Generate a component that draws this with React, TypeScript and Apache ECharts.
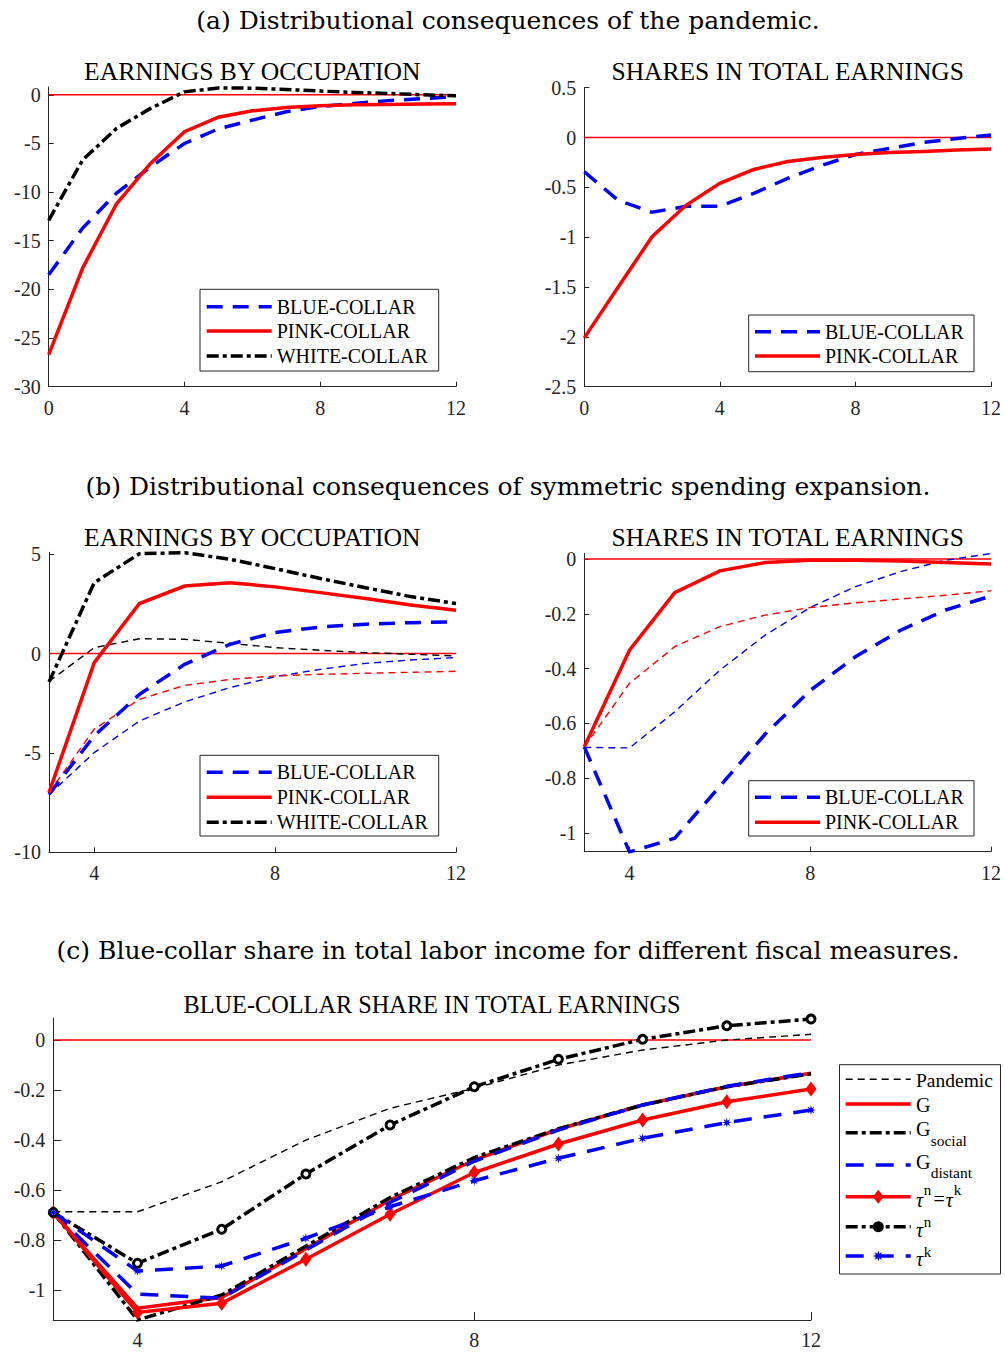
import React, { useEffect, useRef } from "react";
import * as echarts from "echarts";

// ---------- DATA ----------
const xPandemic = [0, 1, 2, 3, 4, 5, 6, 7, 8, 9, 10, 11, 12];
const xPolicy = [3, 4, 5, 6, 7, 8, 9, 10, 11, 12];

// (a) pandemic: earnings by occupation
const aEarnBlue = [-18.5, -13.7, -10.1, -7.4, -5.0, -3.5, -2.6, -1.75, -1.2, -0.9, -0.6, -0.4, -0.2];
const aEarnPink = [-26.7, -17.8, -11.2, -7.05, -3.8, -2.3, -1.65, -1.3, -1.13, -1.03, -1.0, -0.95, -0.92];
const aEarnWhite = [-12.9, -6.7, -3.45, -1.4, 0.3, 0.7, 0.68, 0.55, 0.38, 0.24, 0.14, 0.0, -0.1];
// (a) pandemic: shares in total earnings
const aShareBlue = [-0.343, -0.63, -0.75, -0.69, -0.69, -0.56, -0.41, -0.28, -0.17, -0.11, -0.05, -0.01, 0.025];
const aSharePink = [-2.01, -1.5, -0.995, -0.68, -0.46, -0.32, -0.24, -0.2, -0.17, -0.15, -0.14, -0.125, -0.115];

// (b) symmetric spending expansion (thick) and pandemic (thin)
const bEarnBlue = [-7.08, -4.14, -2.05, -0.54, 0.47, 1.06, 1.34, 1.48, 1.56, 1.6];
const bEarnPink = [-7.0, -0.45, 2.52, 3.4, 3.57, 3.36, 3.07, 2.77, 2.45, 2.18];
const bEarnWhite = [-1.43, 3.57, 5.03, 5.08, 4.75, 4.28, 3.78, 3.32, 2.87, 2.52];
const bEarnBluePandemic = [-7.1, -4.98, -3.39, -2.43, -1.71, -1.16, -0.79, -0.49, -0.32, -0.2];
const bEarnPinkPandemic = [-7.0, -3.8, -2.3, -1.6, -1.3, -1.12, -1.04, -0.99, -0.94, -0.89];
const bEarnWhitePandemic = [-1.4, 0.3, 0.75, 0.72, 0.52, 0.3, 0.17, 0.05, -0.03, -0.12];
// (b) shares in total earnings
const bShareBlue = [-0.686, -1.07, -1.02, -0.83, -0.64, -0.48, -0.357, -0.26, -0.186, -0.135];
const bSharePink = [-0.686, -0.333, -0.123, -0.043, -0.013, -0.004, -0.004, -0.007, -0.013, -0.018];
const bShareBluePandemic = [-0.688, -0.69, -0.558, -0.406, -0.278, -0.177, -0.101, -0.046, -0.004, 0.02];
const bSharePinkPandemic = [-0.686, -0.454, -0.32, -0.247, -0.205, -0.177, -0.16, -0.146, -0.132, -0.116];

// (c) blue-collar share for different fiscal measures
const cPandemic = [-0.687, -0.687, -0.567, -0.4, -0.273, -0.193, -0.1, -0.04, 0.0, 0.023];
const cG = [-0.69, -1.073, -1.03, -0.835, -0.64, -0.48, -0.357, -0.26, -0.187, -0.133];
const cGSocial = [-0.69, -1.12, -1.02, -0.825, -0.63, -0.47, -0.355, -0.26, -0.187, -0.135];
const cGDistant = [-0.69, -1.016, -1.033, -0.84, -0.65, -0.485, -0.36, -0.26, -0.185, -0.13];
const cTauBoth = [-0.69, -1.09, -1.053, -0.877, -0.697, -0.53, -0.416, -0.32, -0.247, -0.196];
const cTauN = [-0.69, -0.893, -0.757, -0.536, -0.34, -0.187, -0.077, 0.003, 0.057, 0.084];
const cTauK = [-0.69, -0.924, -0.904, -0.793, -0.667, -0.563, -0.473, -0.393, -0.33, -0.28];

// tick values
const xTicksA = [0, 4, 8, 12];
const xTicksB = [4, 8, 12];
const yTicksA1 = [-30, -25, -20, -15, -10, -5, 0];
const yTicksA2 = [-2.5, -2, -1.5, -1, -0.5, 0, 0.5];
const yTicksB1 = [-10, -5, 0, 5];
const yTicksB2 = [-1, -0.8, -0.6, -0.4, -0.2, 0];
const yTicksC = [-1, -0.8, -0.6, -0.4, -0.2, 0];

// ---------- STYLE ----------
const FONT = "'Liberation Serif', 'Times New Roman', serif";
const HEAD_FONT = "'DejaVu Serif', serif";
const AX = "#262626";
const BLUE = "#0000ff";
const RED = "#ff0000";
const BLACK = "#000000";
const THICK = 3.5;
const THIN = 1.4;
const DASH = [16, 10];
const DASHC = [18, 12];
const DASHDOT = [12, 4, 4, 4];
const THINDASH = [7, 5];

function starPoints(cx: number, cy: number, r1: number, r2: number): number[][] {
  const pts: number[][] = [];
  const n = 8;
  for (let i = 0; i < 2 * n; i++) {
    const r = i % 2 === 0 ? r1 : r2;
    const a = (Math.PI * i) / n - Math.PI / 2;
    pts.push([cx + r * Math.cos(a), cy + r * Math.sin(a)]);
  }
  return pts;
}
const STAR_SYMBOL =
  "path://M" + starPoints(10, 10, 10, 4).map((p) => p[0].toFixed(2) + " " + p[1].toFixed(2)).join(" L") + " Z";

function xAxisCfg(gridIndex: number, min: number, max: number, ticks: number[], margin: number, tickLen: number) {
  return {
    type: "value",
    gridIndex,
    min,
    max,
    axisLine: { show: true, onZero: false, lineStyle: { color: AX, width: 1 } },
    axisTick: { show: true, inside: true, length: tickLen, customValues: ticks, lineStyle: { color: AX, width: 1 } },
    axisLabel: { customValues: ticks, fontFamily: FONT, fontSize: 20, color: AX, margin, formatter: (v: number) => String(v) },
    splitLine: { show: false },
  };
}
function yAxisCfg(gridIndex: number, min: number, max: number, ticks: number[], tickLen: number) {
  return {
    type: "value",
    gridIndex,
    min,
    max,
    axisLine: { show: true, onZero: false, lineStyle: { color: AX, width: 1 } },
    axisTick: { show: true, inside: true, length: tickLen, customValues: ticks, lineStyle: { color: AX, width: 1 } },
    axisLabel: { customValues: ticks, fontFamily: FONT, fontSize: 20, color: AX, margin: 8, formatter: (v: number) => String(v) },
    splitLine: { show: false },
  };
}

// horizontal reference line at zero, spanning the axis extent
function zeroSeries(ax: number, xmin: number, xmax: number) {
  return {
    type: "line",
    xAxisIndex: ax,
    yAxisIndex: ax,
    data: [[xmin, 0], [xmax, 0]],
    symbol: "none",
    silent: true,
    z: 1,
    lineStyle: { color: RED, width: 1.5, type: "solid" },
  };
}

function ser(ax: number, xs: number[], ys: number[], color: string, width: number, dash: any, extra: any = {}) {
  return {
    type: "line",
    xAxisIndex: ax,
    yAxisIndex: ax,
    data: xs.map((x, i) => [x, ys[i]]),
    symbol: "none",
    silent: true,
    clip: true,
    lineStyle: { color, width, type: dash || "solid", cap: "butt", join: "miter" },
    itemStyle: { color },
    ...extra,
  };
}

// ---------- GRAPHIC HELPERS ----------
function txt(x: number, y: number, text: string, size: number, opts: any = {}) {
  const align = opts.align || "left";
  return {
    type: "text",
    x,
    y,
    silent: true,
    z: 100,
    style: {
      text,
      fill: opts.fill || BLACK,
      fontFamily: opts.font || FONT,
      fontSize: size,
      fontStyle: opts.italic ? "italic" : "normal",
      align,
      textAlign: align,
      verticalAlign: "middle",
      textVerticalAlign: "middle",
    },
  };
}
function sample(x1: number, x2: number, y: number, color: string, width: number, dash: number[] | null) {
  return {
    type: "line",
    silent: true,
    z: 100,
    shape: { x1, y1: y, x2, y2: y },
    style: { stroke: color, lineWidth: width, lineDash: dash || null, lineCap: "butt" },
  };
}
function box(x: number, y: number, w: number, h: number) {
  return {
    type: "rect",
    silent: true,
    z: 99,
    shape: { x, y, width: w, height: h },
    style: { fill: "#ffffff", stroke: AX, lineWidth: 1 },
  };
}

function occLegend(x: number, y: number, h: number, rows: number[]) {
  const els: any[] = [box(x, y, 238.7, h)];
  const l1 = x + 6.7;
  const l2 = x + 71.7;
  const tx = x + 76.7;
  els.push(sample(l1, l2, rows[0], BLUE, THICK, DASH));
  els.push(txt(tx, rows[0], "BLUE-COLLAR", 20));
  els.push(sample(l1, l2, rows[1], RED, THICK, null));
  els.push(txt(tx, rows[1], "PINK-COLLAR", 20));
  els.push(sample(l1, l2, rows[2], BLACK, THICK, DASHDOT));
  els.push(txt(tx, rows[2], "WHITE-COLLAR", 20));
  return els;
}

function shareLegend(x: number, y: number, h: number, rows: number[]) {
  const els: any[] = [box(x, y, 225.3, h)];
  const l1 = x + 6.3;
  const l2 = x + 71.3;
  const tx = x + 76.3;
  els.push(sample(l1, l2, rows[0], BLUE, THICK, DASH));
  els.push(txt(tx, rows[0], "BLUE-COLLAR", 20));
  els.push(sample(l1, l2, rows[1], RED, THICK, null));
  els.push(txt(tx, rows[1], "PINK-COLLAR", 20));
  return els;
}

function fiscalLegend() {
  const els: any[] = [box(839.5, 1064.7, 161, 209.3)];
  const l1 = 845.7;
  const l2 = 910.7;
  const mx = 878.3;
  const tx = 916;
  els.push(sample(l1, l2, 1079.3, BLACK, THIN, THINDASH));
  els.push(txt(tx, 1080, "Pandemic", 19.5));
  els.push(sample(l1, l2, 1104, RED, THICK, null));
  els.push(txt(tx, 1104.5, "G", 20));
  els.push(sample(l1, l2, 1132.7, BLACK, THICK, DASHDOT));
  els.push(txt(tx, 1129, "G", 20));
  els.push(txt(930.7, 1140.5, "social", 15.5));
  els.push(sample(l1, l2, 1165, BLUE, THICK, DASHC));
  els.push(txt(tx, 1162, "G", 20));
  els.push(txt(930.7, 1172, "distant", 15.5));
  els.push(sample(l1, l2, 1196.7, RED, THICK, null));
  els.push({
    type: "polygon",
    silent: true,
    z: 101,
    shape: { points: [[mx, 1196.7 - 7], [mx + 5.5, 1196.7], [mx, 1196.7 + 7], [mx - 5.5, 1196.7]] },
    style: { fill: RED },
  });
  els.push(txt(tx, 1199.5, "τ", 20, { italic: true }));
  els.push(txt(923.8, 1189.5, "n", 15));
  els.push(txt(933.5, 1198.5, "=", 20));
  els.push(txt(945.7, 1199.5, "τ", 20, { italic: true }));
  els.push(txt(953.8, 1190, "k", 15));
  els.push(sample(l1, l2, 1226.7, BLACK, THICK, DASHDOT));
  els.push({ type: "circle", silent: true, z: 101, shape: { cx: mx, cy: 1226.7, r: 5.5 }, style: { fill: BLACK } });
  els.push(txt(tx, 1229.5, "τ", 20, { italic: true }));
  els.push(txt(923.8, 1221.5, "n", 15));
  els.push(sample(l1, l2, 1256, BLUE, THICK, DASHC));
  els.push({ type: "polygon", silent: true, z: 101, shape: { points: starPoints(mx, 1256, 5.5, 2.5) }, style: { fill: BLUE } });
  els.push(txt(tx, 1258.5, "τ", 20, { italic: true }));
  els.push(txt(923.8, 1251.5, "k", 15));
  return els;
}

function buildOption(): any {
  const grids = [
    { left: 48.7, top: 87, width: 407.3, height: 299.7 },
    { left: 584.3, top: 87.7, width: 406.7, height: 299 },
    { left: 49, top: 552.3, width: 407, height: 300 },
    { left: 584.3, top: 553.3, width: 406.7, height: 298.4 },
    { left: 53.3, top: 1018.3, width: 757.7, height: 301.7 },
  ].map((g) => ({ ...g, containLabel: false, outerBoundsMode: "none", show: false }));

  const xAxes = [
    xAxisCfg(0, 0, 12, xTicksA, 11, 5),
    xAxisCfg(1, 0, 12, xTicksA, 11, 5),
    xAxisCfg(2, 3, 12, xTicksB, 11, 5),
    xAxisCfg(3, 3, 12, xTicksB, 11, 5),
    xAxisCfg(4, 3, 12, xTicksB, 10, 8),
  ];
  const yAxes = [
    yAxisCfg(0, -30, 0.8, yTicksA1, 5),
    yAxisCfg(1, -2.5, 0.5, yTicksA2, 5),
    yAxisCfg(2, -10, 5.1, yTicksB1, 5),
    yAxisCfg(3, -1.069, 0.021, yTicksB2, 5),
    yAxisCfg(4, -1.12, 0.087, yTicksC, 8),
  ];

  const series: any[] = [
    zeroSeries(0, 0, 12),
    ser(0, xPandemic, aEarnBlue, BLUE, THICK, DASH),
    ser(0, xPandemic, aEarnPink, RED, THICK, null),
    ser(0, xPandemic, aEarnWhite, BLACK, THICK, DASHDOT),
    zeroSeries(1, 0, 12),
    ser(1, xPandemic, aShareBlue, BLUE, THICK, DASH),
    ser(1, xPandemic, aSharePink, RED, THICK, null),
    zeroSeries(2, 3, 12),
    ser(2, xPolicy, bEarnBluePandemic, BLUE, THIN, THINDASH),
    ser(2, xPolicy, bEarnPinkPandemic, RED, THIN, THINDASH),
    ser(2, xPolicy, bEarnWhitePandemic, BLACK, THIN, THINDASH),
    ser(2, xPolicy, bEarnBlue, BLUE, THICK, DASH),
    ser(2, xPolicy, bEarnPink, RED, THICK, null),
    ser(2, xPolicy, bEarnWhite, BLACK, THICK, DASHDOT),
    zeroSeries(3, 3, 12),
    ser(3, xPolicy, bShareBluePandemic, BLUE, THIN, THINDASH),
    ser(3, xPolicy, bSharePinkPandemic, RED, THIN, THINDASH),
    ser(3, xPolicy, bShareBlue, BLUE, THICK, DASH),
    ser(3, xPolicy, bSharePink, RED, THICK, null),
    zeroSeries(4, 3, 12),
    ser(4, xPolicy, cPandemic, BLACK, THIN, THINDASH),
    ser(4, xPolicy, cG, RED, THICK, null),
    ser(4, xPolicy, cGSocial, BLACK, THICK, DASHDOT),
    ser(4, xPolicy, cGDistant, BLUE, THICK, DASHC),
    ser(4, xPolicy, cTauBoth, RED, THICK, null, {
      symbol: "diamond", symbolSize: [11, 15], showSymbol: true, showAllSymbol: true, itemStyle: { color: RED },
    }),
    ser(4, xPolicy, cTauN, BLACK, THICK, DASHDOT, {
      symbol: "circle", symbolSize: 8, showSymbol: true, showAllSymbol: true,
      itemStyle: { color: "#ffffff", borderColor: BLACK, borderWidth: 3 },
    }),
    ser(4, xPolicy, cTauK, BLUE, THICK, DASHC, {
      symbol: STAR_SYMBOL, symbolSize: 10, showSymbol: true, showAllSymbol: true, itemStyle: { color: BLUE },
    }),
  ];

  const graphic: any[] = [
    txt(508, 20, "(a) Distributional consequences of the pandemic.", 25, { font: HEAD_FONT, align: "center" }),
    txt(508, 486, "(b) Distributional consequences of symmetric spending expansion.", 25, { font: HEAD_FONT, align: "center" }),
    txt(508, 950, "(c) Blue-collar share in total labor income for different fiscal measures.", 25, { font: HEAD_FONT, align: "center" }),
    txt(252.3, 71, "EARNINGS BY OCCUPATION", 25.6, { align: "center" }),
    txt(787.7, 71, "SHARES IN TOTAL EARNINGS", 25.5, { align: "center" }),
    txt(252.3, 537, "EARNINGS BY OCCUPATION", 25.6, { align: "center" }),
    txt(787.7, 537, "SHARES IN TOTAL EARNINGS", 25.5, { align: "center" }),
    txt(432, 1004, "BLUE-COLLAR SHARE IN TOTAL EARNINGS", 24.3, { align: "center" }),
    ...occLegend(200, 289.3, 81.7, [306.7, 331, 356]),
    ...shareLegend(748.7, 315, 56.7, [331.7, 356]),
    ...occLegend(200, 755.3, 80.7, [772.3, 797.3, 822.3]),
    ...shareLegend(748.7, 780.7, 55.3, [797.3, 822.3]),
    ...fiscalLegend(),
  ];

  return { animation: false, backgroundColor: "#ffffff", grid: grids, xAxis: xAxes, yAxis: yAxes, series, graphic };
}

export default function App() {
  const ref = useRef<HTMLDivElement>(null);
  useEffect(() => {
    if (!ref.current) return;
    const chart = echarts.init(ref.current, undefined, { renderer: "svg" });
    chart.setOption(buildOption());
    return () => chart.dispose();
  }, []);
  return <div ref={ref} style={{ position: "absolute", left: 0, top: 0, width: 1005, height: 1354, background: "#ffffff" }} />;
}
